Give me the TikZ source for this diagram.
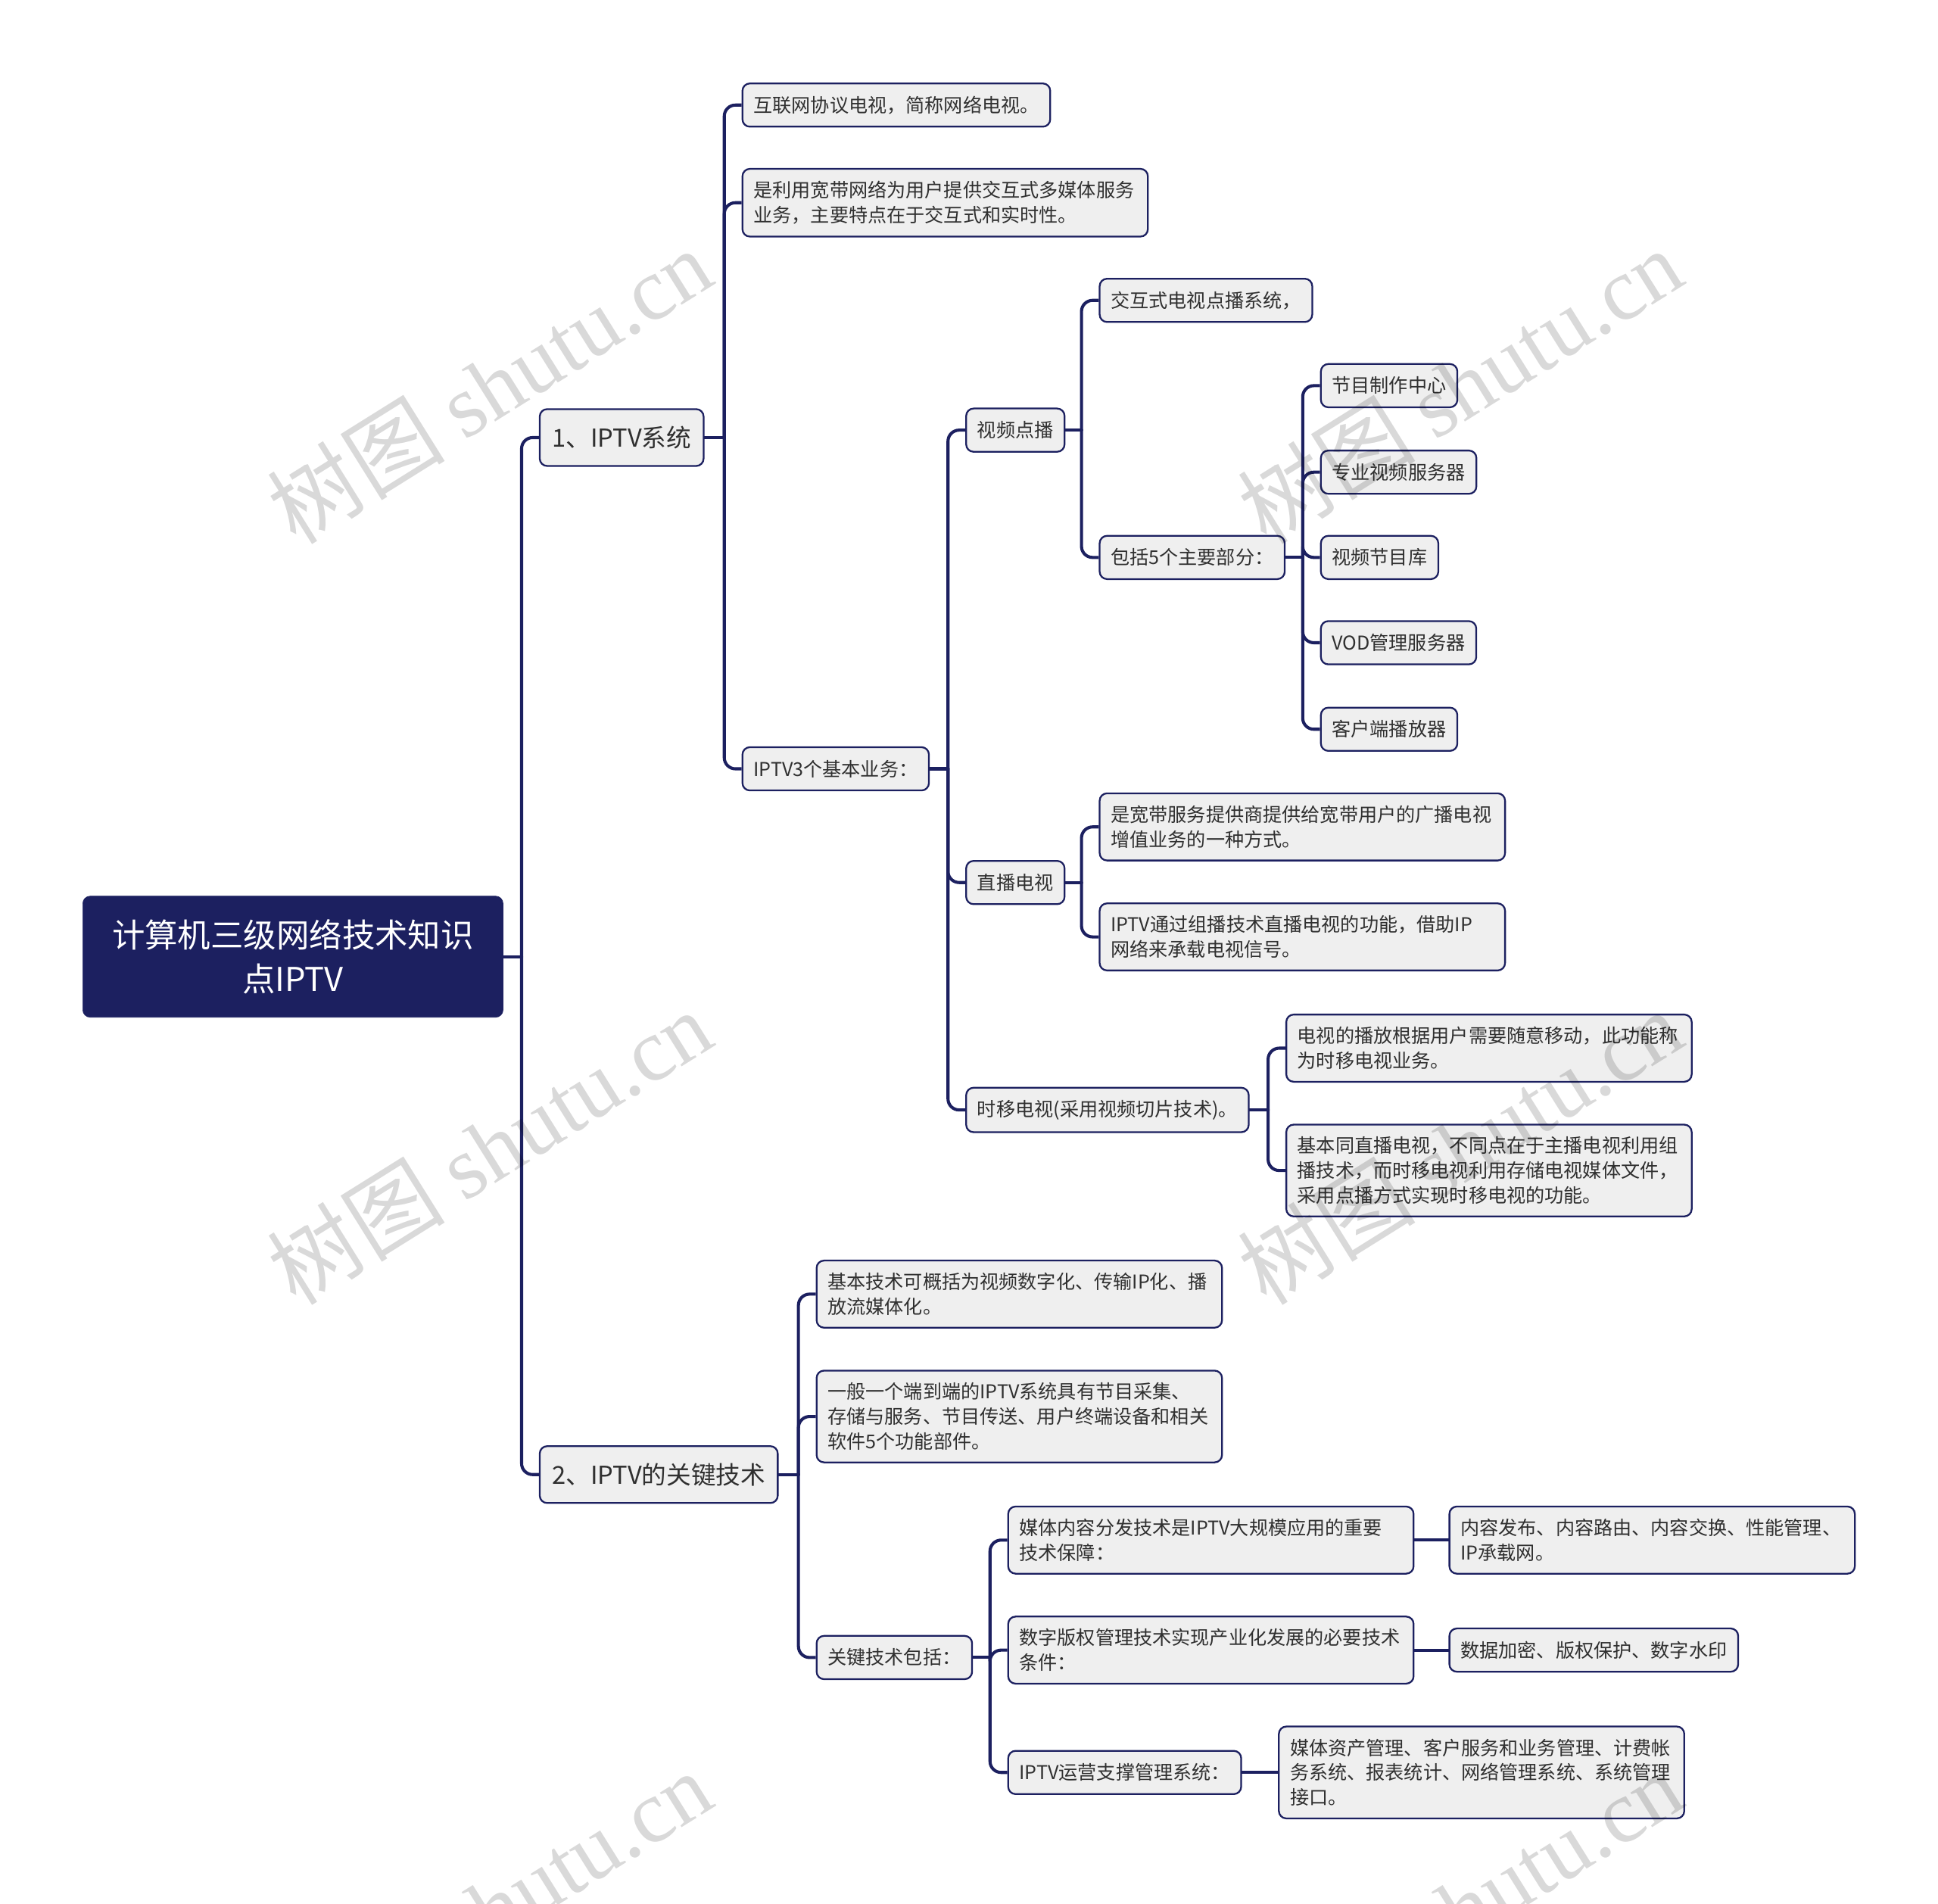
\documentclass[tikz,border=0pt]{standalone}
\usepackage{fontspec}
\setmainfont{Noto Sans CJK SC}
\newfontfamily\wmfont{Liberation Serif}
\usetikzlibrary{calc,backgrounds}
\definecolor{navy}{HTML}{1C2060}
\definecolor{boxfill}{HTML}{EFEFEF}
\definecolor{txt}{HTML}{303030}
\tikzset{
  leaf/.style={draw=navy, line width=1.4pt, fill=boxfill, rounded corners=6pt, text=txt,
    anchor=west, inner xsep=9pt, inner ysep=10pt, minimum height=35pt,
    font=\fontsize{15.4}{20}\selectfont, align=left},
  wide/.style={leaf, text width=310pt},
  topic/.style={leaf, font=\fontsize{20}{24}\selectfont, minimum height=46pt, inner xsep=10pt},
  rootbox/.style={fill=navy, draw=navy, rounded corners=6pt, text=white, minimum width=340pt,
    minimum height=98pt, align=center, text width=320pt, font=\fontsize{26.6}{35}\selectfont},
  stem/.style={draw=navy, line width=2.5pt, line cap=round},
  link/.style={draw=navy, line width=2.5pt, rounded corners=9pt},
  wmark/.style={text=black, opacity=0.15, rotate=32, font=\fontsize{72}{72}\selectfont}
}
\newcommand\branch[2]{%
  \draw[stem] (#1.east) -- ($(#1.east -| #2.west)+(-14,0)$);
  \draw[link] ($(#1.east -| #2.west)+(-14,0)$) |- (#2.west);}
\begin{document}
\begin{tikzpicture}[x=1pt,y=-1pt]
\useasboundingbox (0,0) rectangle (1568,1540);

\node[rootbox] (root) at (237,774) {计算机三级网络技术知识\\点IPTV};

\node[topic] (t1) at (436,354) {1、IPTV系统};
\node[topic] (t2) at (436,1193) {2、IPTV的关键技术};

\node[leaf] (a1) at (600,85) {互联网协议电视，简称网络电视。};
\node[wide] (a2) at (600,164) {是利用宽带网络为用户提供交互式多媒体服务\\业务，主要特点在于交互式和实时性。};
\node[leaf] (a3) at (600,622) {IPTV3个基本业务：};

\node[leaf] (b1) at (781,348) {视频点播};
\node[leaf] (b2) at (781,714) {直播电视};
\node[leaf] (b3) at (781,898) {时移电视(采用视频切片技术)。};

\node[leaf] (c1) at (889,243) {交互式电视点播系统，};
\node[leaf] (c2) at (889,451) {包括5个主要部分：};

\node[leaf] (d1) at (1068,312) {节目制作中心};
\node[leaf] (d2) at (1068,382) {专业视频服务器};
\node[leaf] (d3) at (1068,451) {视频节目库};
\node[leaf] (d4) at (1068,520) {VOD管理服务器};
\node[leaf] (d5) at (1068,590) {客户端播放器};

\node[wide] (e1) at (889,669) {是宽带服务提供商提供给宽带用户的广播电视\\增值业务的一种方式。};
\node[wide] (e2) at (889,758) {IPTV通过组播技术直播电视的功能，借助IP\\网络来承载电视信号。};

\node[wide] (f1) at (1040,848) {电视的播放根据用户需要随意移动，此功能称\\为时移电视业务。};
\node[wide] (f2) at (1040,947) {基本同直播电视，不同点在于主播电视利用组\\播技术，而时移电视利用存储电视媒体文件，\\采用点播方式实现时移电视的功能。};

\node[wide] (g1) at (660,1047) {基本技术可概括为视频数字化、传输IP化、播\\放流媒体化。};
\node[wide] (g2) at (660,1146) {一般一个端到端的IPTV系统具有节目采集、\\存储与服务、节目传送、用户终端设备和相关\\软件5个功能部件。};
\node[leaf] (g3) at (660,1341) {关键技术包括：};

\node[wide] (h1) at (815,1246) {媒体内容分发技术是IPTV大规模应用的重要\\技术保障：};
\node[wide] (h2) at (815,1335) {数字版权管理技术实现产业化发展的必要技术\\条件：};
\node[leaf] (h3) at (815,1434) {IPTV运营支撑管理系统：};

\node[wide] (i1) at (1172,1246) {内容发布、内容路由、内容交换、性能管理、\\IP承载网。};
\node[leaf] (i2) at (1172,1335) {数据加密、版权保护、数字水印};
\node[wide] (i3) at (1034,1434) {媒体资产管理、客户服务和业务管理、计费帐\\务系统、报表统计、网络管理系统、系统管理\\接口。};

\begin{scope}[on background layer]
\fill[white] (0,0) rectangle (1568,1540);
\branch{root}{t1}\branch{root}{t2}
\branch{t1}{a1}\branch{t1}{a2}\branch{t1}{a3}
\branch{a3}{b1}\branch{a3}{b2}\branch{a3}{b3}
\branch{b1}{c1}\branch{b1}{c2}
\branch{c2}{d1}\branch{c2}{d2}\branch{c2}{d3}\branch{c2}{d4}\branch{c2}{d5}
\branch{b2}{e1}\branch{b2}{e2}
\branch{b3}{f1}\branch{b3}{f2}
\branch{t2}{g1}\branch{t2}{g2}\branch{t2}{g3}
\branch{g3}{h1}\branch{g3}{h2}\branch{g3}{h3}
\draw[stem] (h1.east) -- (i1.west);
\draw[stem] (h2.east) -- (i2.west);
\draw[stem] (h3.east) -- (i3.west);
\end{scope}

\begin{scope}
\clip (0,0) rectangle (1568,1540);
\node[wmark] (w1) at (396,312) {树图 {\wmfont shutu.cn}};
\node[wmark] (w2) at (396,928) {树图 {\wmfont shutu.cn}};
\node[wmark] (w3) at (1181,312) {树图 {\wmfont shutu.cn}};
\node[wmark] (w4) at (1181,928) {树图 {\wmfont shutu.cn}};
\node[wmark] (w5) at (396,1544) {树图 {\wmfont shutu.cn}};
\node[wmark] (w6) at (1181,1544) {树图 {\wmfont shutu.cn}};
\end{scope}
\end{tikzpicture}
\end{document}
